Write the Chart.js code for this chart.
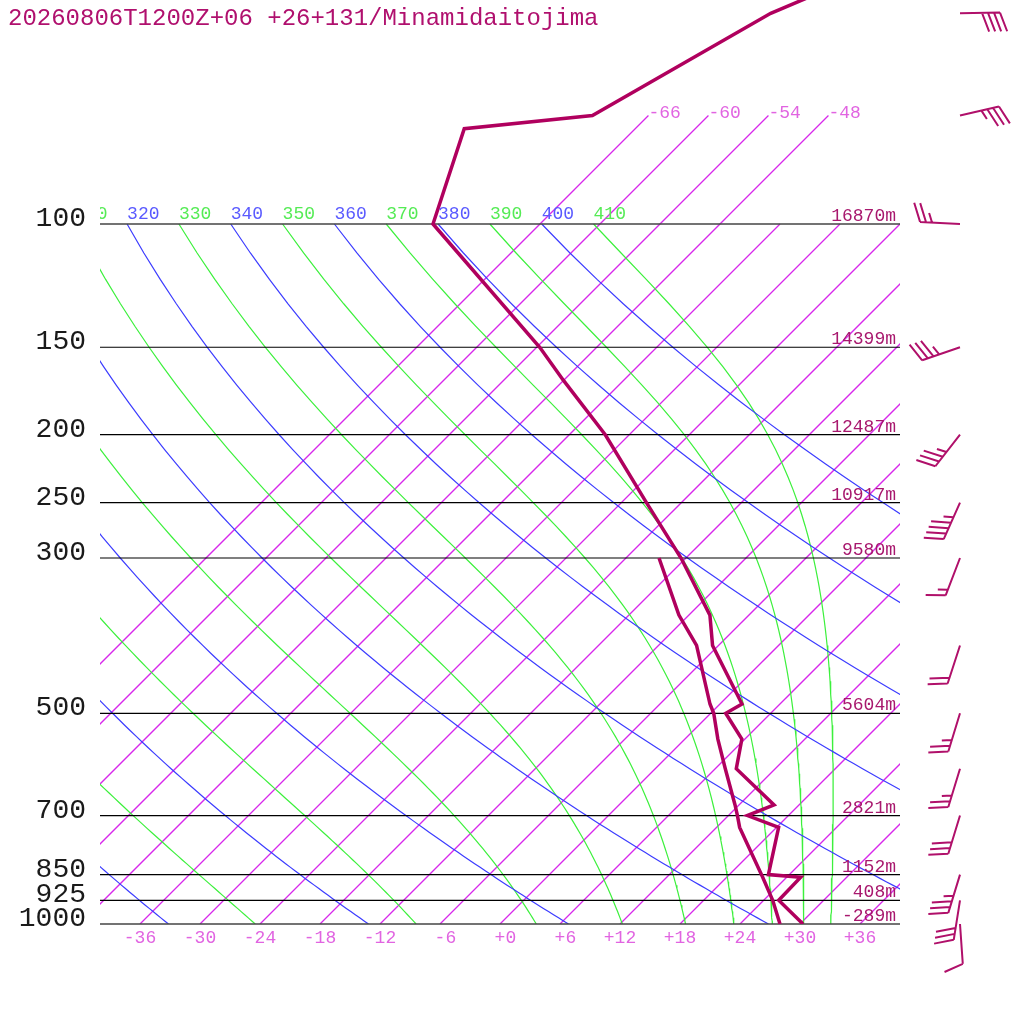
<!DOCTYPE html>
<html>
<head>
<meta charset="utf-8">
<script src="https://cdn.jsdelivr.net/npm/chart.js@4.4.1/dist/chart.umd.min.js"></script>
<style>
  html, body { margin: 0; padding: 0; background: #fff; }
  #wrap { width: 1024px; height: 1024px; }
</style>
</head>
<body>
<div id="wrap"><canvas id="skewt" width="1024" height="1024"></canvas></div>
<script>
// sounding, Minamidaitojima 2026-08-06 12Z
const titleText = '20260806T1200Z+06 +26+131/Minamidaitojima';

// temperature (hPa / degC)
const tempP = [1000, 925, 857.6, 850, 727.7, 700, 676, 600, 544.4, 500, 485, 400, 362, 300, 250, 200, 167, 150, 100, 73.1, 70, 50, 40];
const tempT = [30.3, 25.5, 25.4, 21.9, 18.2, 13.9, 15.5, 8.1, 5.7, 1.5, 2.2, -6.6, -9.9, -18.5, -27.5, -38.4, -48.1, -53.7, -76.7, -83.1, -71.6, -64.0, -54.7];

// dew point
const dewP = [1000, 925, 857.6, 850, 727.7, 700, 676, 600, 544.4, 500, 485, 400, 362, 300];
const dewT = [28.0, 24.9, 21.6, 21.2, 14.3, 12.9, 11.6, 7.0, 3.3, 0.3, -1.0, -8.2, -13.0, -20.7];

// wind (direction deg, speed kt)
const windP = [1000, 925, 850, 700, 600, 500, 400, 300, 250, 200, 150, 100, 70, 50];
const windDir = [176, 189, 197, 197, 197, 197, 198, 201, 204, 218, 251, 273, 77, 89];
const windSpd = [10, 30, 35, 30, 25, 25, 20, 15, 45, 35, 35, 25, 35, 40];

// standard levels and heights
const isobars = [1000, 925, 850, 700, 500, 300, 250, 200, 150, 100];
const heights = [-289, 408, 1152, 2821, 5604, 9580, 10917, 12487, 14399, 16870];

// background lines
const isotherms = [-66, -60, -54, -48, -42, -36, -30, -24, -18, -12, -6, 0, 6, 12, 18, 24, 30, 36];
const topIsotherms = [-66, -60, -54, -48];
const tempTicks = [-36, -30, -24, -18, -12, -6, 0, 6, 12, 18, 24, 30, 36];
const dryTheta = [240, 260, 280, 300, 320, 340, 360, 380, 400];
const moistTheta = [250, 270, 290, 310, 330, 350, 370, 390, 410];

const SKEW = 70;          // degC per decade of pressure
const P_TOP = 1000 / Math.pow(10, 924 / 700);
const KAPPA = 287.04 / 1005.7;
const MONO = '"Liberation Mono", "DejaVu Sans Mono", monospace';

const cTrace = 'rgb(176, 0, 94)';
const cIso = 'rgb(215, 40, 235)';
const cIsoText = 'rgb(225, 100, 225)';
const cDry = 'rgb(60, 60, 255)';
const cMoist = 'rgb(60, 240, 60)';

function sx(t, p) { return t + SKEW * Math.log10(1000 / p); }

const sampleP = [];
for (let p = 1000; p >= 100; p -= 10) sampleP.push(p);

function dryCurve(theta) {
  return sampleP.map(p => ({ x: sx(theta * Math.pow(p / 1000, KAPPA) - 273.15, p), y: p }));
}

function moistCurve(theta) {
  const Rd = 287.04, Cp = 1005.7, Lv = 2.501e6, eps = 0.622;
  const f = (p, T) => {
    const tc = T - 273.15;
    const es = 6.112 * Math.exp(17.67 * tc / (tc + 243.5));
    const rs = eps * es / (p - es);
    return (Rd * T + Lv * rs) / (p * (Cp + Lv * Lv * rs * eps / (Rd * T * T)));
  };
  let p = 100, T = theta * Math.pow(0.1, KAPPA);
  const pts = [{ x: sx(T - 273.15, p), y: p }];
  const h = 1;
  while (p < 1000) {
    const k1 = f(p, T);
    const k2 = f(p + h / 2, T + h * k1 / 2);
    const k3 = f(p + h / 2, T + h * k2 / 2);
    const k4 = f(p + h, T + h * k3);
    T += h * (k1 + 2 * k2 + 2 * k3 + k4) / 6;
    p += h;
    if (Math.round(p) % 10 === 0) pts.push({ x: sx(T - 273.15, p), y: p });
  }
  return pts;
}

function lineSet(data, color, width, order) {
  return {
    data, borderColor: color, backgroundColor: color, borderWidth: width,
    pointRadius: 0, showLine: true, fill: false, order, clip: 0, tension: 0
  };
}

const datasets = [];
datasets.push(lineSet(tempP.map((p, i) => ({ x: sx(tempT[i], p), y: p })), cTrace, 3.5, 0));
datasets.push(lineSet(dewP.map((p, i) => ({ x: sx(dewT[i], p), y: p })), cTrace, 3.5, 0));
isobars.forEach(p => {
  const edge = (p === 1000 || p === 100);
  const ds = lineSet([{ x: -40, y: p }, { x: 40, y: p }], edge ? 'rgb(68, 68, 68)' : 'rgb(0, 0, 0)', edge ? 1.6 : 1.2, 1);
  if (edge) ds.clip = false;
  datasets.push(ds);
});
isotherms.forEach(t => {
  const top = topIsotherms.includes(t) ? 70 : 100;
  datasets.push(lineSet([{ x: sx(t, 1000), y: 1000 }, { x: sx(t, top), y: top }], cIso, 1.3, 3));
});
dryTheta.forEach(th => datasets.push(lineSet(dryCurve(th), cDry, 1.2, 2)));
moistTheta.forEach(th => datasets.push(lineSet(moistCurve(th), cMoist, 1.2, 2)));

function drawBarb(ctx, x0, y0, dir, kt) {
  const L = 40, full = 20, gap = 6, ang = 70;
  const r = dir * Math.PI / 180, rb = (dir + ang) * Math.PI / 180;
  const ux = Math.sin(r), uy = -Math.cos(r);
  const bx = Math.sin(rb), by = -Math.cos(rb);
  const tx = x0 + ux * L, ty = y0 + uy * L;
  const n = Math.round(kt / 5);
  const fulls = Math.floor(n / 2), half = n % 2;
  ctx.beginPath();
  ctx.moveTo(x0, y0);
  ctx.lineTo(tx, ty);
  for (let k = 0; k < fulls + half; k++) {
    const len = k < fulls ? full : full / 2;
    const px = tx - ux * gap * k, py = ty - uy * gap * k;
    ctx.moveTo(px, py);
    ctx.lineTo(px + bx * len, py + by * len);
  }
  ctx.stroke();
}

const labelsPlugin = {
  id: 'skewtLabels',
  afterDraw: (chart) => {
    const ctx = chart.ctx;
    const xs = chart.scales.x, ys = chart.scales.y;
    const area = chart.chartArea;

    ctx.save();
    ctx.textBaseline = 'alphabetic';

    // title
    ctx.font = '24px ' + MONO;
    ctx.fillStyle = '#b0106e';
    ctx.textAlign = 'left';
    ctx.fillText(titleText, 8, 25);

    // pressure labels and heights
    isobars.forEach((p, i) => {
      const y = ys.getPixelForValue(p);
      ctx.font = '28px ' + MONO;
      ctx.fillStyle = '#1a1a1a';
      ctx.textAlign = 'right';
      ctx.fillText(String(p), 86, y + 2);
      ctx.font = '18px ' + MONO;
      ctx.fillStyle = '#a8186e';
      ctx.fillText(heights[i] + 'm', 896, y - 3);
    });

    // temperature ticks at the bottom
    ctx.font = '18px ' + MONO;
    ctx.fillStyle = cIsoText;
    ctx.textAlign = 'center';
    tempTicks.forEach(t => {
      const s = (t > 0 ? '+' + t : (t === 0 ? '+0' : String(t))).padStart(3, ' ');
      ctx.fillText(s, xs.getPixelForValue(sx(t, 1000)), 943);
    });

    // isotherm labels at the top
    ctx.textAlign = 'left';
    topIsotherms.forEach(t => {
      ctx.fillText(String(t), xs.getPixelForValue(sx(t, 70)), ys.getPixelForValue(70) + 2);
    });

    // theta labels above 100 hPa, clipped to plot
    ctx.save();
    ctx.beginPath();
    ctx.rect(area.left, 0, area.right - area.left, area.bottom);
    ctx.clip();
    const y100 = ys.getPixelForValue(100);
    dryTheta.concat(moistTheta).forEach(th => {
      const t = th * Math.pow(0.1, KAPPA) - 273.15;
      ctx.fillStyle = dryTheta.includes(th) ? 'rgb(90, 90, 255)' : 'rgb(85, 235, 85)';
      ctx.fillText(String(th), xs.getPixelForValue(sx(t, 100)), y100 - 5);
    });
    ctx.restore();

    // wind barbs
    ctx.strokeStyle = '#b0106a';
    ctx.lineWidth = 2;
    windP.forEach((p, i) => {
      drawBarb(ctx, 960, ys.getPixelForValue(p), windDir[i], windSpd[i]);
    });
    ctx.restore();
  }
};

new Chart(document.getElementById('skewt'), {
  type: 'scatter',
  data: { datasets },
  options: {
    responsive: false,
    animation: false,
    devicePixelRatio: 1,
    events: [],
    layout: { padding: { left: 100, right: 124, top: 0, bottom: 100 } },
    plugins: { legend: { display: false }, tooltip: { enabled: false } },
    scales: {
      x: { type: 'linear', min: -40, max: 40, bounds: 'data', display: false },
      y: { type: 'logarithmic', min: P_TOP, max: 1000, reverse: true, bounds: 'data', display: false }
    }
  },
  plugins: [labelsPlugin]
});
</script>
</body>
</html>
